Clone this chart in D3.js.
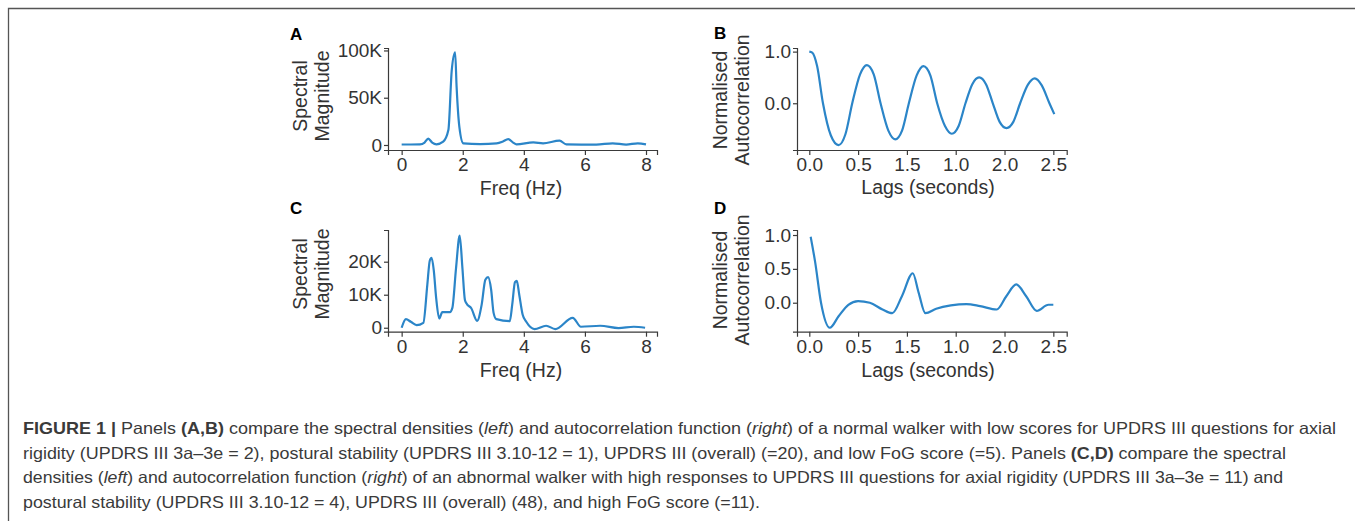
<!DOCTYPE html>
<html>
<head>
<meta charset="utf-8">
<script src="https://cdn.jsdelivr.net/npm/d3@7"></script>
<style>
  body { margin: 0; background: #fff; }
  svg { display: block; font-family: "Liberation Sans", Arial, Helvetica, sans-serif; }
  .axis path, .axis line { stroke: #3a3a3a; stroke-width: 1.2; }
  .axis text { fill: #333; font-size: 19px; }
  .axis-label { fill: #333; font-size: 19.5px; }
  .panel-letter { fill: #000; font-size: 17px; font-weight: bold; }
  .caption { fill: #3a3a3a; font-family: "Liberation Sans", Arial, sans-serif; font-size: 16.5px; }
</style>
</head>
<body>
<svg id="fig" width="1355" height="521"></svg>
<script>
// Panel A: spectral magnitude, normal walker
let freqA = [0, 0.3, 0.6, 0.75, 0.87, 1.0, 1.14, 1.36, 1.53, 1.64, 1.75, 1.80, 1.89, 2.02, 2.57, 3.11, 3.30, 3.49, 3.65, 3.76, 4.31, 4.63, 5.17, 5.39, 6.37, 6.91, 7.35, 7.73, 8.0];
let magA = [500, 500, 600, 2500, 6800, 2500, 700, 3500, 15800, 79000, 98000, 61000, 19000, 1800, 1000, 1800, 3500, 6300, 2500, 700, 2800, 1800, 4600, 700, 400, 1800, 400, 1800, 700];

// Panel C: spectral magnitude, abnormal walker
let freqC = [0, 0.14, 0.30, 0.49, 0.71, 0.84, 0.92, 0.98, 1.05, 1.13, 1.23, 1.33, 1.58, 1.66, 1.78, 1.90, 1.99, 2.07, 2.12, 2.28, 2.47, 2.62, 2.74, 2.83, 2.93, 3.01, 3.10, 3.54, 3.62, 3.71, 3.77, 3.85, 3.96, 4.08, 4.35, 4.73, 5.03, 5.60, 5.87, 6.5, 7.1, 7.6, 7.97];
let magC = [0, 2600, 1800, 800, 1500, 13000, 20300, 21200, 17500, 9000, 2800, 4700, 4700, 6000, 18000, 27900, 18000, 8500, 7400, 5900, 2100, 7000, 14500, 15300, 11500, 4500, 2600, 2000, 7000, 13800, 14200, 10000, 4000, 1800, -400, 600, -400, 3000, 300, 600, -100, 300, 0];

// Panel B: autocorrelation, normal walker
let lagB = [0, 0.03, 0.08, 0.14, 0.22, 0.30, 0.37, 0.44, 0.52, 0.59, 0.66, 0.73, 0.81, 0.88, 0.95, 1.02, 1.10, 1.17, 1.24, 1.31, 1.39, 1.46, 1.53, 1.60, 1.67, 1.74, 1.81, 1.88, 1.95, 2.02, 2.09, 2.16, 2.24, 2.31, 2.38, 2.46, 2.51];
let acfB = [1.0, 0.98, 0.72, 0.0, -0.62, -0.81, -0.60, 0.0, 0.56, 0.74, 0.56, 0.0, -0.53, -0.70, -0.53, 0.0, 0.54, 0.72, 0.54, 0.0, -0.44, -0.59, -0.44, 0.0, 0.37, 0.50, 0.37, 0.0, -0.36, -0.48, -0.36, 0.0, 0.36, 0.48, 0.35, 0.0, -0.21];

// Panel D: autocorrelation, abnormal walker
let lagD = [0.014, 0.06, 0.12, 0.21, 0.30, 0.40, 0.50, 0.62, 0.75, 0.85, 0.95, 1.06, 1.12, 1.19, 1.30, 1.45, 1.61, 1.75, 1.92, 2.02, 2.12, 2.22, 2.33, 2.45, 2.50];
let acfD = [0.975, 0.60, 0.0, -0.37, -0.20, -0.03, 0.025, 0.0, -0.10, -0.155, 0.10, 0.435, 0.15, -0.155, -0.09, -0.04, -0.02, -0.05, -0.10, 0.10, 0.27, 0.10, -0.12, -0.03, -0.03];

// Ticks
let freqTicks = [0, 2, 4, 6, 8];
let specTicksA = [0, 50000, 100000];
let specTickLabelsA = ['0', '50K', '100K'];
let specTicksC = [0, 10000, 20000];
let specTickLabelsC = ['0', '10K', '20K'];
let lagTicks = [0, 0.5, 1.0, 1.5, 2.0, 2.5];
let lagTickLabels = ['0.0', '0.5', '1.5', '1.0', '2.0', '2.5'];
let acfTicksB = [0, 1];
let acfTickLabelsB = ['0.0', '1.0'];
let acfTicksD = [0, 0.5, 1];
let acfTickLabelsD = ['0.0', '0.5', '1.0'];

// Caption lines: [text, style]
let captionLines = [
  [['FIGURE 1 | ', 'b'], ['Panels ', ''], ['(A,B)', 'b'], [' compare the spectral densities (', ''], ['left', 'i'], [') and autocorrelation function (', ''], ['right', 'i'], [') of a normal walker with low scores for UPDRS III questions for axial', '']],
  [['rigidity (UPDRS III 3a\u20133e = 2), postural stability (UPDRS III 3.10-12 = 1), UPDRS III (overall) (=20), and low FoG score (=5). Panels ', ''], ['(C,D)', 'b'], [' compare the spectral', '']],
  [['densities (', ''], ['left', 'i'], [') and autocorrelation function (', ''], ['right', 'i'], [') of an abnormal walker with high responses to UPDRS III questions for axial rigidity (UPDRS III 3a\u20133e = 11) and', '']],
  [['postural stability (UPDRS III 3.10-12 = 4), UPDRS III (overall) (48), and high FoG score (=11).', '']]
];
let captionWidths = [1313, 1263, 1260, 737];

let LINE_COLOR = '#2b85c8';
let svg = d3.select('#fig');

// Figure frame: only the top and left edges fall inside the picture
svg.append('path')
  .attr('d', 'M8.5,521V8.5H1355')
  .attr('fill', 'none')
  .attr('stroke', '#555')
  .attr('stroke-width', 1.3);

function drawPanel (p) {
  let x = d3.scaleLinear().domain(p.xDomain).range([p.left, p.right]);
  let y = d3.scaleLinear().domain(p.yDomain).range([p.bottom, p.top]);
  let g = svg.append('g');

  g.append('g')
    .attr('class', 'axis')
    .attr('transform', 'translate(0,' + p.bottom + ')')
    .call(d3.axisBottom(x)
      .tickValues(p.xTicks)
      .tickFormat((d, i) => p.xTickLabels[i])
      .tickSizeOuter(0)
      .tickSize(5)
      .tickPadding(3));

  g.append('g')
    .attr('class', 'axis')
    .attr('transform', 'translate(' + p.left + ',0)')
    .call(d3.axisLeft(y)
      .tickValues(p.yTicks)
      .tickFormat((d, i) => p.yTickLabels[i])
      .tickSizeOuter(0)
      .tickSize(4)
      .tickPadding(2));

  // let the stylesheet pick font family and size
  g.selectAll('.axis').attr('font-family', null).attr('font-size', null);

  let line = d3.line()
    .x(d => x(d[0]))
    .y(d => y(d[1]))
    .curve(d3.curveMonotoneX);
  g.append('path')
    .datum(d3.zip(p.xs, p.ys))
    .attr('d', line)
    .attr('fill', 'none')
    .attr('stroke', LINE_COLOR)
    .attr('stroke-width', 2.2)
    .attr('stroke-linejoin', 'round');

  // x label
  g.append('text')
    .attr('class', 'axis-label')
    .attr('x', p.xLabelX)
    .attr('y', p.xLabelY)
    .attr('text-anchor', 'middle')
    .text(p.xLabel);

  // two-line rotated y label
  p.yLabel.forEach((t, i) => {
    g.append('text')
      .attr('class', 'axis-label')
      .attr('transform', 'translate(' + p.yLabelX[i] + ',' + p.yLabelY + ') rotate(-90)')
      .attr('text-anchor', 'middle')
      .text(t);
  });

  g.append('text')
    .attr('class', 'panel-letter')
    .attr('x', p.letterX)
    .attr('y', p.letterY)
    .text(p.letter);
}

drawPanel({
  letter: 'A', letterX: 290, letterY: 40,
  left: 388, right: 657, top: 48, bottom: 150,
  xDomain: [-0.447, 8.36], yDomain: [-5300, 102600],
  xTicks: freqTicks, xTickLabels: freqTicks.map(String),
  yTicks: specTicksA, yTickLabels: specTickLabelsA,
  xs: freqA, ys: magA,
  xLabel: 'Freq (Hz)', xLabelX: 521, xLabelY: 195,
  yLabel: ['Spectral', 'Magnitude'], yLabelX: [307, 328.5], yLabelY: 96
});

drawPanel({
  letter: 'C', letterX: 290, letterY: 214,
  left: 388, right: 657, top: 230, bottom: 331.7,
  xDomain: [-0.447, 8.36], yDomain: [-1200, 29600],
  xTicks: freqTicks, xTickLabels: freqTicks.map(String),
  yTicks: specTicksC, yTickLabels: specTickLabelsC,
  xs: freqC, ys: magC,
  xLabel: 'Freq (Hz)', xLabelX: 521, xLabelY: 376.5,
  yLabel: ['Spectral', 'Magnitude'], yLabelX: [307, 328.5], yLabelY: 274
});

drawPanel({
  letter: 'B', letterX: 714, letterY: 39,
  left: 797, right: 1066.7, top: 48, bottom: 150,
  xDomain: [-0.126, 2.637], yDomain: [-0.905, 1.07],
  xTicks: lagTicks, xTickLabels: lagTickLabels,
  yTicks: acfTicksB, yTickLabels: acfTickLabelsB,
  xs: lagB, ys: acfB,
  xLabel: 'Lags (seconds)', xLabelX: 928, xLabelY: 193.5,
  yLabel: ['Normalised', 'Autocorrelation'], yLabelX: [727, 749], yLabelY: 100
});

drawPanel({
  letter: 'D', letterX: 714, letterY: 214,
  left: 797, right: 1066.7, top: 230, bottom: 331.7,
  xDomain: [-0.126, 2.637], yDomain: [-0.428, 1.074],
  xTicks: lagTicks, xTickLabels: lagTickLabels,
  yTicks: acfTicksD, yTickLabels: acfTickLabelsD,
  xs: lagD, ys: acfD,
  xLabel: 'Lags (seconds)', xLabelX: 928, xLabelY: 376.5,
  yLabel: ['Normalised', 'Autocorrelation'], yLabelX: [727, 749], yLabelY: 280
});

// Caption, each line stretched to the measured width
let caption = svg.append('g');
captionLines.forEach((segs, i) => {
  let t = caption.append('text')
    .attr('class', 'caption')
    .attr('x', 23)
    .attr('y', 434 + i * 24.5)
    .attr('textLength', captionWidths[i])
    .attr('lengthAdjust', 'spacingAndGlyphs');
  segs.forEach(s => {
    t.append('tspan')
      .attr('font-weight', s[1] === 'b' ? 'bold' : null)
      .attr('font-style', s[1] === 'i' ? 'italic' : null)
      .text(s[0]);
  });
});
</script>
</body>
</html>
